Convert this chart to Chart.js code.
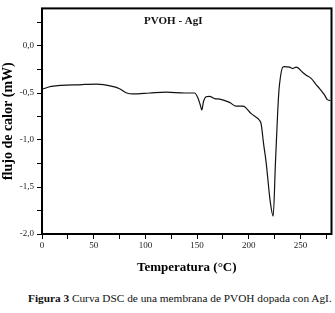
<!DOCTYPE html>
<html>
<head>
<meta charset="utf-8">
<script src="https://cdn.jsdelivr.net/npm/chart.js@4/dist/chart.umd.min.js"></script>
<style>
  body { margin: 0; background: #fff; }
  #wrap { position: relative; width: 335px; height: 313px; overflow: hidden; }
  #caption {
    position: absolute; left: 28px; top: 292px;
    font: 11.3px "Liberation Serif", "DejaVu Serif", serif;
    color: #111; white-space: nowrap;
  }
</style>
</head>
<body>
<div id="wrap">
  <canvas id="dscChart" width="335" height="280"></canvas>
  <div id="caption"><b>Figura 3</b> Curva DSC de una membrana de PVOH dopada con AgI.</div>
</div>
<script>
// Curva DSC
const temperatura = [0, 9, 39, 53, 68, 75, 82, 88, 104, 120, 138, 147.5, 150.7, 152.9, 154.6, 156.2, 158.8, 162, 167, 172, 181.4, 187.8, 194.2, 196, 202.3, 210.3, 212, 214.2, 216.8, 220.7, 223.6, 225.8, 228.7, 229.7, 232.9, 234.5, 239.3, 242.5, 246, 252, 255.5, 260.3, 265.1, 268.3, 273.2, 276, 279];
const flujo = [-0.46, -0.43, -0.41, -0.405, -0.43, -0.455, -0.50, -0.51, -0.50, -0.49, -0.50, -0.50, -0.55, -0.62, -0.68, -0.59, -0.54, -0.535, -0.56, -0.565, -0.60, -0.64, -0.64, -0.645, -0.72, -0.79, -0.83, -1.03, -1.24, -1.65, -1.81, -1.24, -0.55, -0.41, -0.225, -0.22, -0.225, -0.24, -0.225, -0.28, -0.31, -0.345, -0.41, -0.45, -0.52, -0.57, -0.58];

const xTicks = [0, 50, 100, 150, 200, 250];
const yTicks = [-2.0, -1.5, -1.0, -0.5, 0.0];
const tituloInterno = 'PVOH - AgI';

const serif = '"Liberation Serif", "DejaVu Serif", serif';

// marco negro alrededor del area y el texto interno
const marcoPlugin = {
    id: 'marco',
    afterDraw(chart) {
        const { ctx, chartArea: a, scales } = chart;
        ctx.save();
        ctx.strokeStyle = '#000';
        ctx.lineWidth = 2;
        ctx.strokeRect(a.left, a.top, a.right - a.left, a.bottom - a.top);
        ctx.fillStyle = '#111';
        ctx.font = 'bold 11px ' + serif;
        ctx.textAlign = 'center';
        ctx.textBaseline = 'middle';
        ctx.fillText(tituloInterno, scales.x.getPixelForValue(127), scales.y.getPixelForValue(0.26));
        ctx.restore();
    }
};

new Chart(document.getElementById('dscChart'), {
    type: 'line',
    data: {
        datasets: [{
            data: temperatura.map((t, i) => ({ x: t, y: flujo[i] })),
            borderColor: '#111',
            borderWidth: 1.2,
            pointRadius: 0,
            cubicInterpolationMode: 'monotone',
            fill: false
        }]
    },
    options: {
        responsive: false,
        animation: false,
        layout: { padding: { top: 1, right: 3.5, left: 0, bottom: 0 } },
        plugins: { legend: { display: false }, tooltip: { enabled: false } },
        scales: {
            x: {
                type: 'linear',
                min: 0,
                max: 280,
                afterFit: s => { s.height = 46; },
                afterBuildTicks: s => { s.ticks = [0, 25, 50, 75, 100, 125, 150, 175, 200, 225, 250, 275].map(v => ({ value: v })); },
                grid: { drawOnChartArea: false, tickLength: 5, tickColor: '#000' },
                border: { display: false },
                ticks: {
                    padding: 1,
                    color: '#222',
                    font: { family: serif, size: 9 },
                    callback: v => xTicks.includes(v) ? String(v) : ''
                },
                title: {
                    display: true,
                    text: 'Temperatura (°C)',
                    color: '#000',
                    font: { family: serif, size: 13, weight: 'bold' },
                    padding: { top: 0, bottom: 5 }
                }
            },
            y: {
                min: -2.0,
                max: 0.4,
                afterFit: s => { s.width = 42; },
                afterBuildTicks: s => { s.ticks = [-2.0, -1.75, -1.5, -1.25, -1.0, -0.75, -0.5, -0.25, 0.0, 0.25].map(v => ({ value: v })); },
                grid: { drawOnChartArea: false, tickLength: 5, tickColor: '#000' },
                border: { display: false },
                ticks: {
                    padding: 3,
                    color: '#222',
                    font: { family: serif, size: 9 },
                    callback: v => yTicks.some(t => Math.abs(t - v) < 1e-9) ? v.toFixed(1).replace('.', ',') : ''
                },
                title: {
                    display: true,
                    text: 'flujo de calor (mW)',
                    color: '#000',
                    font: { family: serif, size: 14, weight: 'bold' },
                    padding: 0
                }
            }
        }
    },
    plugins: [marcoPlugin]
});
</script>
</body>
</html>
